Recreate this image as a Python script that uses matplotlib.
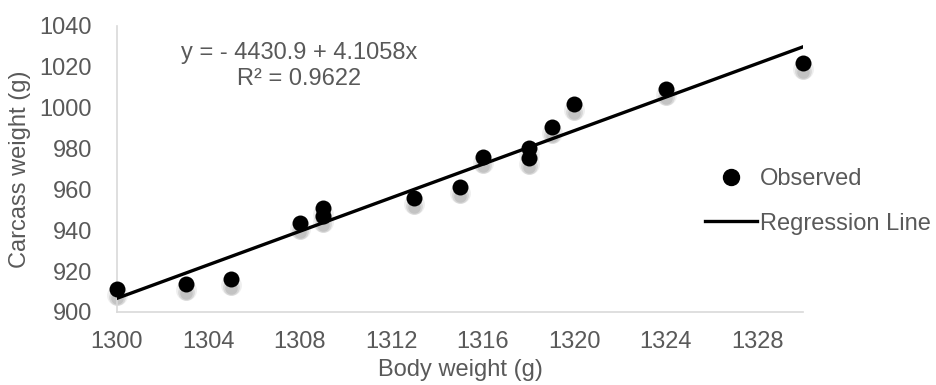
import matplotlib
matplotlib.use("Agg")
import matplotlib.pyplot as plt
import matplotlib.transforms as mtransforms
from matplotlib.lines import Line2D
import numpy as np

plt.rcParams['font.family'] = ['Liberation Sans', 'DejaVu Sans']

# observed data
body_weight = [1300, 1303, 1305, 1308, 1309, 1309, 1313, 1315, 1316, 1318, 1318, 1319, 1320, 1324, 1330]
carcass_weight = [911, 913.5, 916, 943.5, 951, 947, 956, 961, 976, 980, 975.5, 990.5, 1002, 1009, 1022]

# regression
intercept = -4430.9
slope = 4.1058
r2 = 0.9622

x_ticks = [1300, 1304, 1308, 1312, 1316, 1320, 1324, 1328]
y_ticks = [900, 920, 940, 960, 980, 1000, 1020, 1040]

text_col = '#595959'
spine_col = '#d9d9d9'
fs = 17

fig = plt.figure(figsize=(9.36, 3.85), dpi=100)
ax = fig.add_axes([0.125, 0.19, 0.733, 0.7425])

# regression line
xl = np.array([body_weight[0], body_weight[-1]])
ax.plot(xl, intercept + slope * xl, color='black', lw=2.4, zorder=3)

# soft shadows under the dots
for dy, a, ms in [(-6, 0.10, 15), (-8, 0.16, 12), (-9, 0.16, 9)]:
    tr = mtransforms.offset_copy(ax.transData, fig=fig, x=0, y=dy, units='dots')
    ax.plot(body_weight, carcass_weight, 'o', color='#606060', alpha=a,
            markersize=ms, markeredgewidth=0, transform=tr, zorder=2, clip_on=False)

ax.plot(body_weight, carcass_weight, 'o', color='black', markersize=11.5,
        markeredgewidth=0, zorder=4, clip_on=False)

ax.set_xlim(1300, 1330)
ax.set_ylim(900, 1040)
ax.set_xticks(x_ticks)
ax.set_yticks(y_ticks)
ax.tick_params(axis='x', length=0, labelsize=fs, labelcolor=text_col, pad=14)
ax.tick_params(axis='y', length=0, labelsize=fs, labelcolor=text_col, pad=18)
for s in ['top', 'right']:
    ax.spines[s].set_visible(False)
for s in ['left', 'bottom']:
    ax.spines[s].set_color(spine_col)
    ax.spines[s].set_linewidth(1.2)

ax.set_xlabel('Body weight (g)', fontsize=fs, color=text_col, labelpad=4)
ax.set_ylabel('Carcass weight (g)', fontsize=fs, color=text_col, labelpad=6)

ax.text(0.266, 0.86, 'y = - %.1f + %.4fx\nR² = %.4f' % (-intercept, slope, r2),
        transform=ax.transAxes, ha='center', va='center', fontsize=fs,
        color=text_col, linespacing=1.2)

handles = [
    Line2D([], [], marker='o', color='black', linestyle='none', markersize=11.5),
    Line2D([], [], color='black', lw=2.4),
]
leg = fig.legend(handles, ['Observed', 'Regression Line'], loc='upper left',
                 bbox_to_anchor=(0.731, 0.618), frameon=False, fontsize=fs,
                 handlelength=2.2, handletextpad=0.1, labelspacing=0.95)
for t in leg.get_texts():
    t.set_color(text_col)

fig.savefig('out.png', dpi=100)
